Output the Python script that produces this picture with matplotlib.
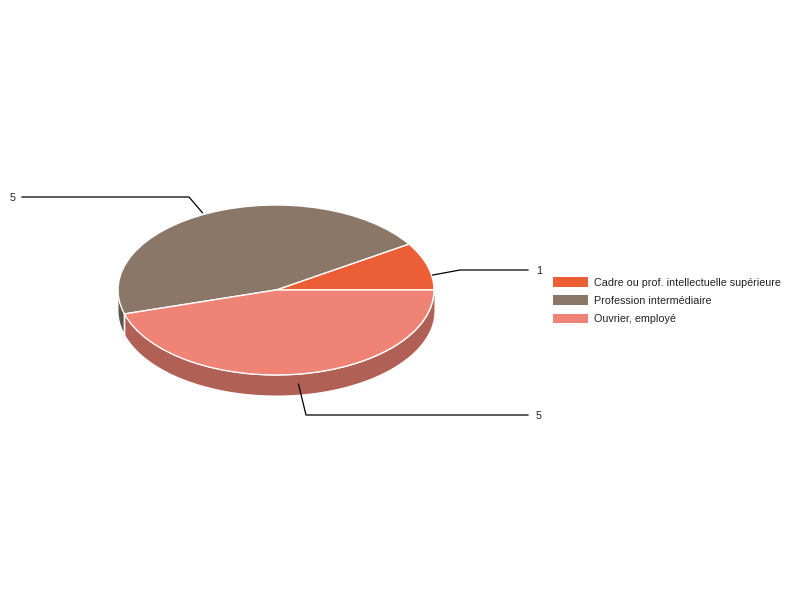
import numpy as np
import matplotlib
matplotlib.use("Agg")
import matplotlib.pyplot as plt
from matplotlib.patches import Patch

categories = ["Cadre ou prof. intellectuelle supérieure", "Profession intermédiaire", "Ouvrier, employé"]
values = [1, 5, 5]
colors = ["#EB5E36", "#8A7768", "#EF8375"]
side_colors = ["#A34125", "#60534A", "#B06055"]

W, H = 800, 600
CX, CY, RX, RY, DEPTH = 276, 290, 158, 85, 20
plt.rcParams["font.family"] = ["Liberation Sans", "DejaVu Sans"]
FS = 7.75

fig = plt.figure(figsize=(8, 6), dpi=100, facecolor="white")
ax = fig.add_axes([0, 0, 1, 1])
d = DEPTH / RY

def px(x, y):
    return (x - CX) / RX, (CY - y) / RY

fracs = np.array(values) / sum(values)
edges = np.concatenate([[0], np.cumsum(fracs)]) * 2 * np.pi

# side walls: only the part of each slice facing the viewer (pi..2pi)
for i in range(len(values)):
    a0, a1 = max(edges[i], np.pi), edges[i + 1]
    if a1 <= a0:
        continue
    t = np.linspace(a0, a1, 200)
    ax.fill_between(np.cos(t), np.sin(t), np.sin(t) - d, color=side_colors[i], lw=0, zorder=1)
    for a in (a0, a1):
        if np.pi < a < 2 * np.pi:
            ax.plot([np.cos(a)] * 2, [np.sin(a), np.sin(a) - d], color="white", lw=1, zorder=2)

wedges, _ = ax.pie(values, colors=colors, startangle=0, counterclock=True, radius=1,
                   wedgeprops=dict(edgecolor="white", linewidth=1.0, zorder=3))
ax.set_aspect("auto")
ax.set_xlim(px(0, 0)[0], px(W, 0)[0])
ax.set_ylim(px(0, H)[1], px(0, 0)[1])
ax.axis("off")

# leader lines: (slice start offset in px from rim at mid-angle, elbow, end, label)
elbows = [(460, 270, 528), (189, 197, 22), (306, 415, 528)]
start_shift = [(5, 9), (-8, 0), (0, 10)]
for i, v in enumerate(values):
    m = (edges[i] + edges[i + 1]) / 2
    sx = CX + RX * np.cos(m) + start_shift[i][0]
    sy = CY - RY * np.sin(m) + start_shift[i][1]
    ex, ey, tx = elbows[i]
    pts = [px(sx, sy), px(ex, ey), px(tx, ey)]
    ax.plot(*zip(*pts), color="black", lw=0.9, zorder=5, solid_joinstyle="miter")
    right = tx > ex
    ax.text(*px(tx + (8 if right else -6), ey + 0.8), str(v), fontsize=FS,
            ha="left" if right else "right", va="center", color="#222222", zorder=6)

handles = [Patch(facecolor=c, edgecolor="none", label=l) for c, l in zip(colors, categories)]
fig.legend(handles=handles, loc="upper left", bbox_to_anchor=(553 / W, 1 - 277 / H),
           bbox_transform=fig.transFigure, frameon=False, fontsize=FS,
           handlelength=3.25, handleheight=1.0, handletextpad=0.56,
           labelspacing=0.72, borderpad=0, borderaxespad=0, labelcolor="#222222")

fig.savefig("out.png", dpi=100, facecolor="white")
